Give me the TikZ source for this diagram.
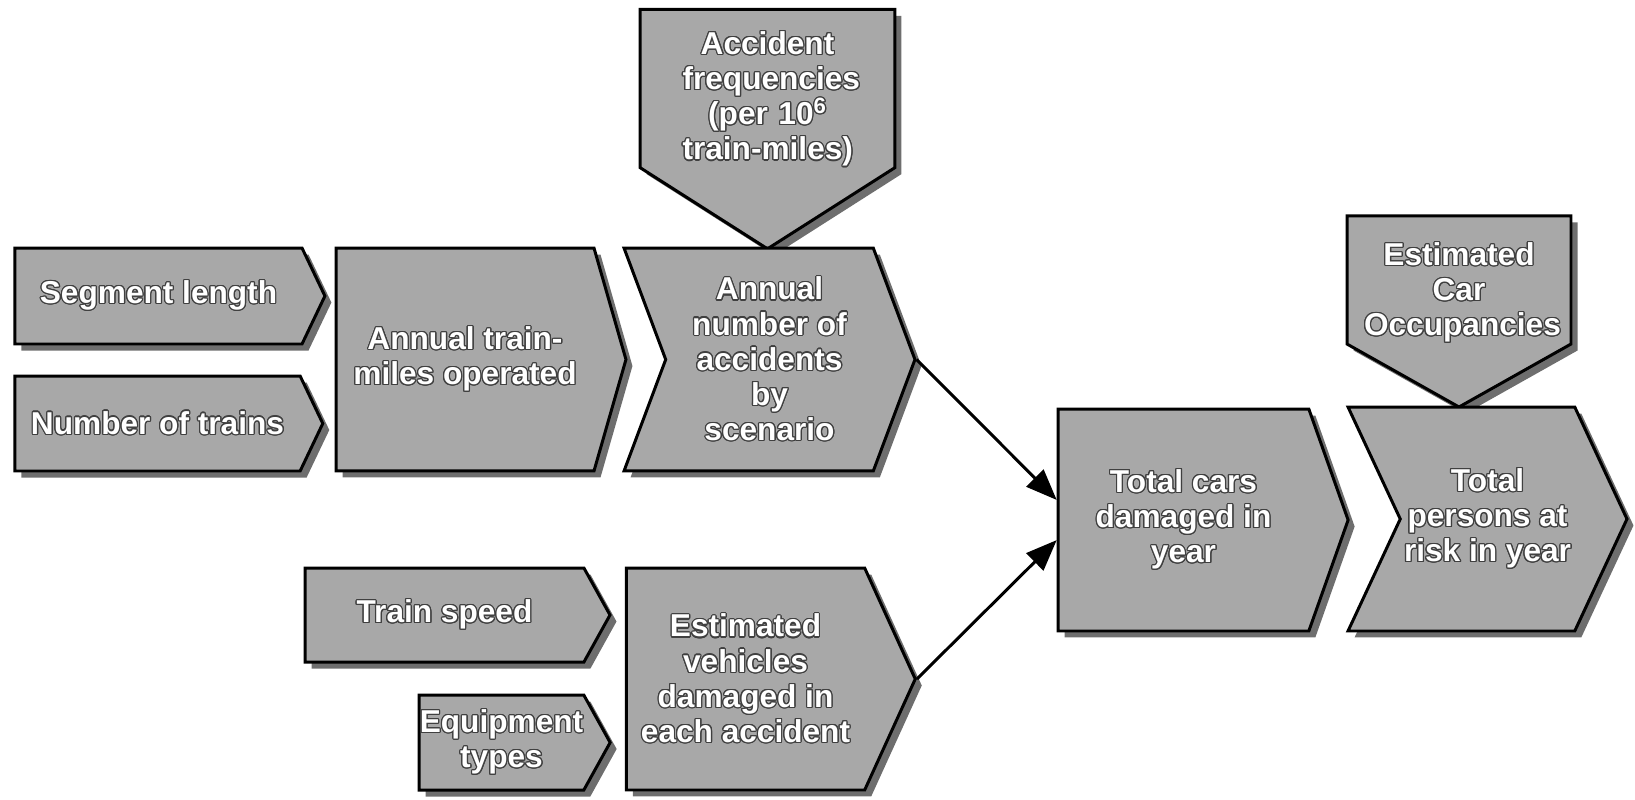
\documentclass[tikz,border=0pt]{standalone}
\usepackage{fontspec}
\setmainfont{Liberation Sans}
\usepackage[copies]{contour}
\usepackage{tikz}
\usetikzlibrary{arrows.meta,shapes.symbols,shadows}
\definecolor{panel}{HTML}{A8A8A8}
\definecolor{shade}{HTML}{6E6E6E}
\contourlength{0.7pt}
\newcommand{\wl}[1]{\contour{black!75}{#1}}

\begin{document}
\begin{tikzpicture}[
    x=0.02cm, y=-0.02cm,
    every node/.style={font=\fontsize{18}{20}\selectfont\bfseries,
                       text=white, align=center},
    stepbox/.style={shape=signal, draw=black, line width=1.7pt, fill=panel,
                    inner sep=0pt,
                    drop shadow={shadow xshift=0.13cm, shadow yshift=-0.13cm,
                                 fill=shade, opacity=1}},
    fwdbox/.style={stepbox, signal to=east},
    chevbox/.style={stepbox, signal from=west, signal to=east},
    downbox/.style={stepbox, signal to=south},
    link/.style={line width=1.7pt, -{Triangle[length=0.62cm,width=0.48cm]}},
  ]
  \useasboundingbox (0,0) rectangle (1635,799);

  % inputs on the left
  \node[fwdbox, minimum width=6.2cm, minimum height=1.92cm,
        signal pointer angle=129] (seglen) at (158.5,296) {\wl{Segment length}};
  \node[fwdbox, minimum width=6.16cm, minimum height=1.9cm,
        signal pointer angle=129] (trains) at (157.5,423.5) {\wl{Number of trains}};
  \node[fwdbox, minimum width=5.8cm, minimum height=4.46cm,
        signal pointer angle=148] (trainmiles) at (465,359.5)
        {\wl{Annual train-}\\\wl{miles operated}};

  % accidents per year
  \node[downbox, text width=3.4cm, minimum width=5.1cm, minimum height=4.22cm,
        signal pointer angle=115] (freq) at (767.5,88.5)
        {\rule{0pt}{0.9cm}\wl{Accident}\\\wl{frequencies}\\\wl{(per 10\textsuperscript{6}}\\\wl{train-miles)}};
  \node[chevbox, minimum width=5.82cm, minimum height=4.46cm,
        signal pointer angle=139] (accidents) at (769.5,359.5)
        {\wl{Annual}\\\wl{number of}\\\wl{accidents}\\\wl{by}\\\wl{scenario}};

  % vehicles per accident
  \node[fwdbox, minimum width=6.1cm, minimum height=1.88cm,
        signal pointer angle=122] (speed) at (444.5,615) {\wl{Train speed}};
  \node[fwdbox, minimum width=3.82cm, minimum height=1.9cm,
        signal pointer angle=122] (equip) at (501.5,742.5)
        {\wl{Equipment}\\\wl{types}};
  \node[fwdbox, minimum width=5.78cm, minimum height=4.44cm,
        signal pointer angle=131] (vehicles) at (745.5,679)
        {\wl{Estimated}\\\wl{vehicles}\\\wl{damaged in}\\\wl{each accident}};

  % totals
  \node[fwdbox, minimum width=5.8cm, minimum height=4.44cm,
        signal pointer angle=141] (totalcars) at (1183.5,520)
        {\wl{Total cars}\\\wl{damaged in}\\\wl{year}};
  \node[downbox, text width=3.8cm, minimum width=4.48cm, minimum height=3.63cm,
        signal pointer angle=121.3] (occup) at (1459,280)
        {\rule{0pt}{0.98cm}\wl{Estimated}\\\wl{Car}\\\wl{Occupancies}};
  \node[chevbox, minimum width=5.58cm, minimum height=4.48cm,
        signal pointer angle=130] (persons) at (1487.5,519)
        {\wl{Total}\\\wl{persons at}\\\wl{risk in year}};

  \draw[link] (accidents.east) -- (totalcars.171);
  \draw[link] (vehicles.east) -- (totalcars.189);
\end{tikzpicture}
\end{document}
